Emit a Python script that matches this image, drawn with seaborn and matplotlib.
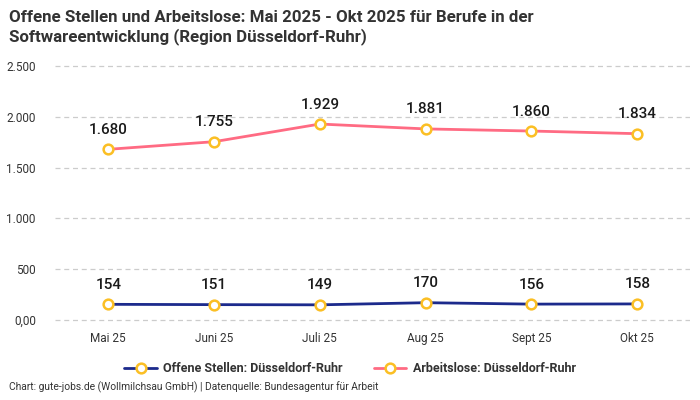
import matplotlib
matplotlib.use("Agg")
import matplotlib.pyplot as plt
import seaborn as sns
import pandas as pd
from matplotlib.ticker import FuncFormatter, FixedLocator
from matplotlib.lines import Line2D

months = ["Mai 25", "Juni 25", "Juli 25", "Aug 25", "Sept 25", "Okt 25"]
offene_stellen = [154, 151, 149, 170, 156, 158]
arbeitslose = [1680, 1755, 1929, 1881, 1860, 1834]
series_names = ["Offene Stellen: Düsseldorf-Ruhr", "Arbeitslose: Düsseldorf-Ruhr"]
y_ticks = [0, 500, 1000, 1500, 2000, 2500]

sns.set_theme(style="white")
plt.rcParams["font.family"] = ["Roboto", "DejaVu Sans"]

df = pd.DataFrame({
    "x": list(range(len(months))) * 2,
    "value": offene_stellen + arbeitslose,
    "series": [series_names[0]] * len(months) + [series_names[1]] * len(months),
})

colors = {series_names[0]: "#1c2a8c", series_names[1]: "#ff6b83"}

fig = plt.figure(figsize=(7, 4), dpi=100)
ax = fig.add_axes([0.079, 0.195, 0.907, 0.645])

sns.lineplot(data=df, x="x", y="value", hue="series", palette=colors, ax=ax,
             linewidth=2, marker="o", markersize=7, markerfacecolor="white",
             markeredgecolor="#fbbf24", markeredgewidth=1.8, legend=False, zorder=3)

for s in (offene_stellen, arbeitslose):
    for i, v in enumerate(s):
        ax.annotate(f"{v:,}".replace(",", "."), (i, v), xytext=(0, 9),
                    textcoords="offset points", ha="center", va="bottom",
                    fontsize=11, color="#1a1a1a", fontweight="medium")

ax.set_xlim(-0.5, len(months) - 0.5)
ax.set_ylim(-20, 2520)
ax.set_xticks(range(len(months)))
ax.set_xticklabels(months)
ax.yaxis.set_major_locator(FixedLocator(y_ticks))
ax.yaxis.set_major_formatter(FuncFormatter(lambda v, p: "0,00" if v == 0 else f"{int(v):,}".replace(",", ".")))
ax.tick_params(axis="both", labelsize=8.5, colors="#333333", length=0)
ax.tick_params(axis="x", pad=7)
ax.tick_params(axis="y", pad=14)
ax.set_xlabel("")
ax.set_ylabel("")
for sp in ax.spines.values():
    sp.set_visible(False)
ax.grid(axis="y", color="#cccccc", linestyle=(0, (4, 3)), linewidth=0.9)
ax.set_axisbelow(True)

handles = [Line2D([0], [0], color=colors[n], lw=2, marker="o", markersize=7,
                  markerfacecolor="white", markeredgecolor="#fbbf24", markeredgewidth=1.8)
           for n in series_names]
leg = fig.legend(handles, series_names, loc="center", bbox_to_anchor=(0.5, 0.0775),
                 ncol=2, frameon=False, fontsize=9, handlelength=2.6, columnspacing=2.5,
                 handletextpad=0.5)
for t in leg.get_texts():
    t.set_fontweight("bold")
    t.set_color("#333333")

fig.text(0.013, 0.975, "Offene Stellen und Arbeitslose: Mai 2025 - Okt 2025 für Berufe in der\nSoftwareentwicklung (Region Düsseldorf-Ruhr)",
         ha="left", va="top", fontsize=12.2, fontweight="bold", color="#333333", linespacing=1.2)
fig.text(0.013, 0.018, "Chart: gute-jobs.de (Wollmilchsau GmbH) | Datenquelle: Bundesagentur für Arbeit",
         ha="left", va="bottom", fontsize=7.4, color="#333333")

fig.savefig("out.png", dpi=100)
